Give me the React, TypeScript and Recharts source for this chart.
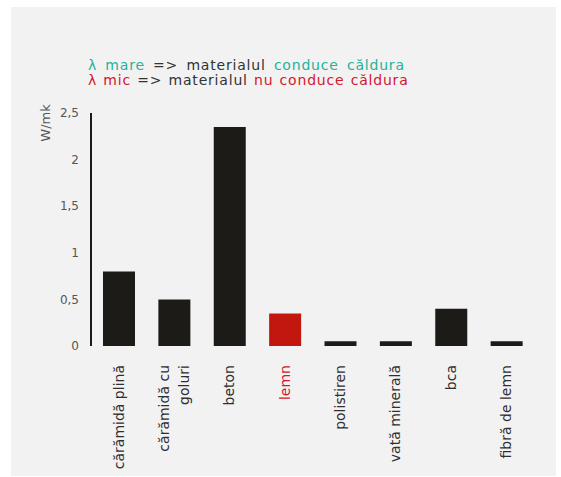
import React from "react";
import { BarChart, Bar, XAxis, YAxis, Cell } from "recharts";

const materials = [
  "cărămidă plină",
  "cărămidă cu goluri",
  "beton",
  "lemn",
  "polistiren",
  "vată minerală",
  "bca",
  "fibră de lemn",
];
const conductivity = [0.8, 0.5, 2.35, 0.35, 0.05, 0.05, 0.4, 0.05];
const yTicks = [0, 0.5, 1, 1.5, 2, 2.5];
const highlighted = "lemn";

const BAR_DARK = "#1c1b18";
const BAR_RED = "#c2170f";
const TEAL = "#1fb39a";
const RED = "#d3172c";
const FONT = "'DejaVu Sans', sans-serif";

const data = materials.map((name, i) => ({ name, value: conductivity[i] }));

// rotated category label, wraps "cărămidă cu goluri" onto two lines
function MaterialTick({ x, y, payload }: any) {
  const name: string = payload.value;
  const lines = name === "cărămidă cu goluri" ? ["cărămidă cu", "goluri"] : [name];
  const lh = 20;
  const color = name === highlighted ? RED : "#2f2f2f";
  return (
    <g transform={`translate(${x},${y + 11})`}>
      <text
        transform="rotate(-90)"
        textAnchor="end"
        fill={color}
        fontSize={14}
        fontFamily={FONT}
      >
        {lines.map((l, i) => (
          <tspan key={i} x={0} y={(i - (lines.length - 1) / 2) * lh} dy="0.35em">
            {l}
          </tspan>
        ))}
      </text>
    </g>
  );
}

function UnitLabel({ viewBox }: any) {
  const cx = viewBox.x + 45;
  const cy = viewBox.y + 10;
  return (
    <text
      x={cx}
      y={cy}
      transform={`rotate(-90 ${cx} ${cy})`}
      textAnchor="middle"
      dominantBaseline="central"
      fill="#555"
      fontSize={13}
      fontFamily={FONT}
    >
      W/mk
    </text>
  );
}

export default function App() {
  return (
    <div
      style={{
        position: "absolute",
        left: 0,
        top: 0,
        width: 561,
        height: 477,
        background: "#ffffff",
        overflow: "hidden",
      }}
    >
      <div
        style={{
          position: "absolute",
          left: 11,
          top: 7,
          width: 545,
          height: 469,
          background: "#f2f2f2",
        }}
      />
      <div
        style={{
          position: "absolute",
          left: 88,
          top: 58,
          fontFamily: FONT,
          fontSize: 14,
          lineHeight: "15px",
          letterSpacing: 0.8,
          color: "#333",
          whiteSpace: "pre",
        }}
      >
        <div style={{ wordSpacing: 3 }}>
          <span style={{ color: TEAL }}>λ mare</span> {"=>"} materialul{" "}
          <span style={{ color: TEAL }}>conduce căldura</span>
        </div>
        <div style={{ wordSpacing: 1 }}>
          <span style={{ color: RED }}>λ mic</span> {"=>"} materialul{" "}
          <span style={{ color: RED }}>nu conduce căldura</span>
        </div>
      </div>
      <div style={{ position: "absolute", left: 0, top: 0 }}>
        <BarChart
          width={561}
          height={477}
          data={data}
          margin={{ top: 113, right: 27, bottom: 21, left: 0 }}
          barSize={32}
        >
          <XAxis
            dataKey="name"
            interval={0}
            axisLine={false}
            tickLine={false}
            height={110}
            tick={<MaterialTick />}
          />
          <YAxis
            width={91}
            domain={[0, 2.5]}
            ticks={yTicks}
            interval={0}
            tickLine={false}
            tickSize={0}
            tickMargin={12}
            axisLine={{ stroke: "#1a1a1a", strokeWidth: 2 }}
            tick={{ fill: "#555", fontSize: 12, fontFamily: FONT }}
            tickFormatter={(v: number) => String(v).replace(".", ",")}
            label={<UnitLabel />}
          />
          <Bar dataKey="value" isAnimationActive={false}>
            {data.map((d) => (
              <Cell key={d.name} fill={d.name === highlighted ? BAR_RED : BAR_DARK} />
            ))}
          </Bar>
        </BarChart>
      </div>
    </div>
  );
}
